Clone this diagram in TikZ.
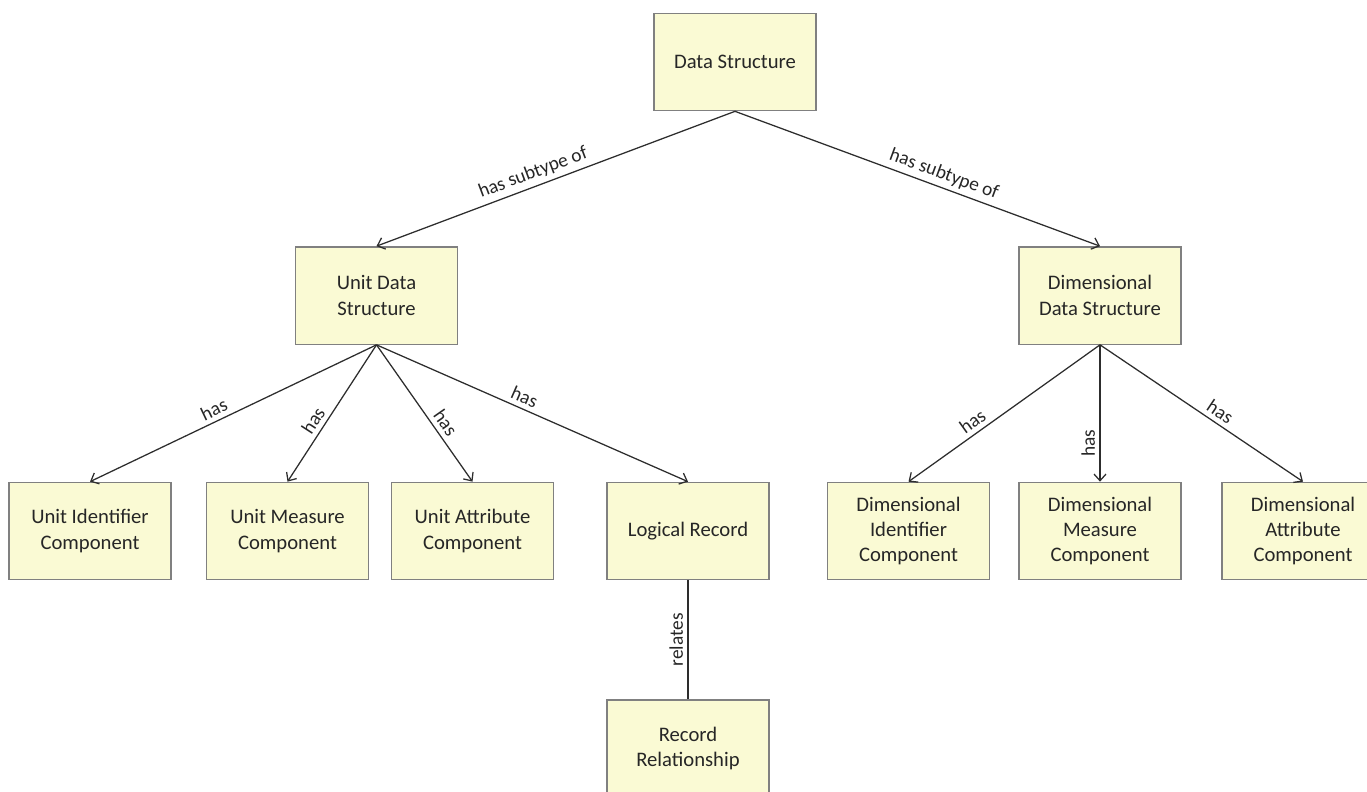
\documentclass[tikz,border=0pt]{standalone}
\usepackage{fontspec}
\setmainfont{Carlito}
\usetikzlibrary{arrows.meta}
\definecolor{boxfill}{RGB}{250,250,212}
\definecolor{boxline}{RGB}{128,128,128}
\definecolor{edgecol}{RGB}{45,45,45}
\definecolor{txt}{RGB}{38,38,38}
\begin{document}
\begin{tikzpicture}[x=0.75pt,y=-0.75pt,
  entity/.style={draw=boxline, line width=1pt, fill=boxfill, minimum width=121.5pt, minimum height=73pt, align=center, text=txt, font=\fontsize{15.5}{19}\selectfont, inner sep=0pt},
  rel/.style={draw=edgecol, line width=0.95pt, -{Straight Barb[length=5pt,width=9pt]}},
  plain/.style={draw=edgecol, line width=0.95pt},
  lbl/.style={font=\fontsize{14.5}{17}\selectfont, text=txt, sloped, above},
  vlbl/.style={font=\fontsize{14.5}{17}\selectfont, text=txt, rotate=90, anchor=south}]
\useasboundingbox (0,0) rectangle (1367,792);
\clip (0,0) rectangle (1367,792);

\node[entity] (ds)  at (735,62)    {Data Structure};
\node[entity] (uds) at (376.5,295.5) {Unit Data\\Structure};
\node[entity] (dds) at (1100,295.5)  {Dimensional\\Data Structure};

\node[entity] (uic) at (90,531)    {Unit Identifier\\Component};
\node[entity] (umc) at (287.5,531) {Unit Measure\\Component};
\node[entity] (uac) at (472.5,531) {Unit Attribute\\Component};
\node[entity] (lr)  at (688,531)   {Logical Record};
\node[entity] (dic) at (908.5,531) {Dimensional\\Identifier\\Component};
\node[entity] (dmc) at (1100,531)  {Dimensional\\Measure\\Component};
\node[entity] (dac) at (1303,531)  {Dimensional\\Attribute\\Component};

\node[entity] (rr)  at (688,748.5) {Record\\Relationship};

\draw[rel] (ds.south) -- node[lbl, pos=0.55] {has subtype of} (uds.north);
\draw[rel] (ds.south) -- node[lbl, pos=0.56] {has subtype of} (dds.north);

\draw[rel] (uds.south) -- node[lbl, pos=0.55] {has} (uic.north);
\draw[rel] (uds.south) -- node[lbl, pos=0.6] {has} (umc.north);
\draw[rel] (uds.south) -- node[lbl, pos=0.62] {has} (uac.north);
\draw[rel] (uds.south) -- node[lbl, pos=0.46] {has} (lr.north);

\draw[rel] (dds.south) -- node[lbl, pos=0.63] {has} (dic.north);
\draw[rel] (dds.south) -- node[vlbl, pos=0.72] {has} (dmc.north);
\draw[rel] (dds.south) -- node[lbl, pos=0.56] {has} (dac.north);

\draw[plain] (lr.south) -- node[vlbl, pos=0.5] {relates} (rr.north);
\end{tikzpicture}
\end{document}
